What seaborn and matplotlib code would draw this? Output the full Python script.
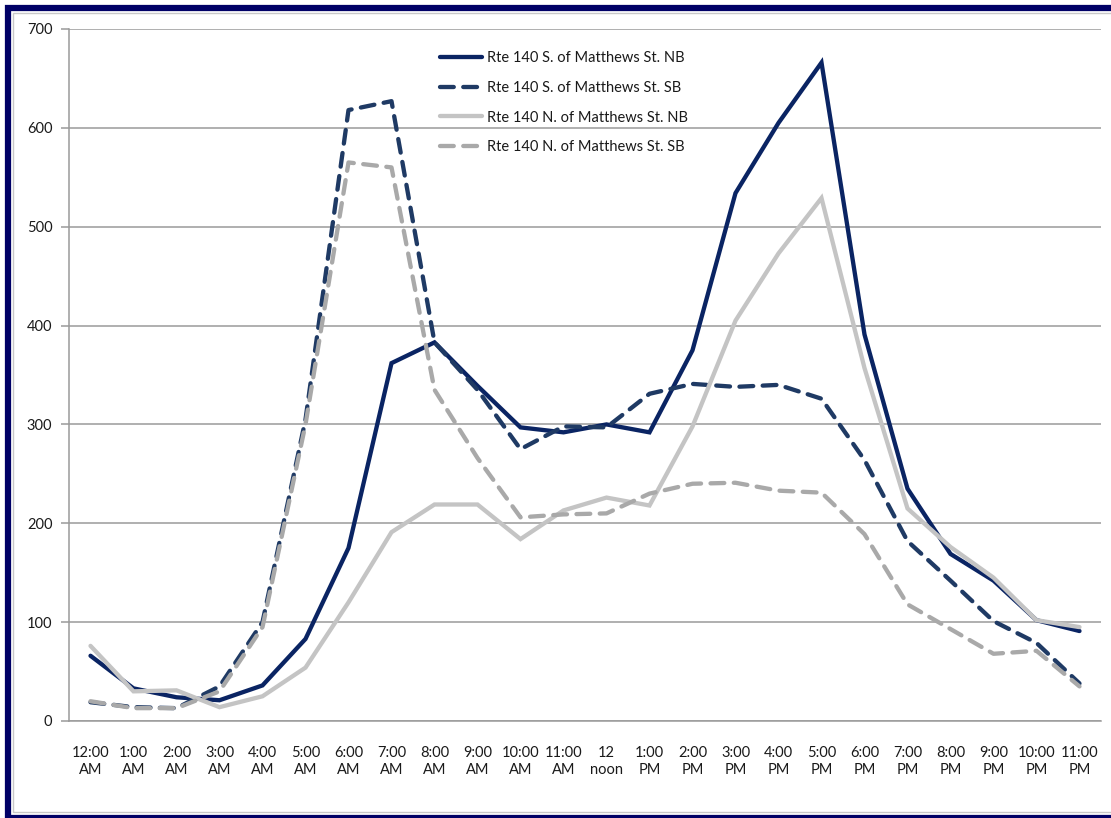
import matplotlib
matplotlib.use("Agg")
import matplotlib.pyplot as plt
import seaborn as sns
import pandas as pd
import numpy as np
from matplotlib.patches import Rectangle
from matplotlib.ticker import FixedLocator

hours = ["12:00\nAM", "1:00\nAM", "2:00\nAM", "3:00\nAM", "4:00\nAM", "5:00\nAM",
         "6:00\nAM", "7:00\nAM", "8:00\nAM", "9:00\nAM", "10:00\nAM", "11:00\nAM",
         "12\nnoon", "1:00\nPM", "2:00\nPM", "3:00\nPM", "4:00\nPM", "5:00\nPM",
         "6:00\nPM", "7:00\nPM", "8:00\nPM", "9:00\nPM", "10:00\nPM", "11:00\nPM"]

s_nb = [66, 33, 24, 21, 36, 83, 175, 362, 383, 339, 297, 292, 300, 292, 375, 534,
        605, 666, 391, 235, 169, 142, 102, 91]
s_sb = [19, 14, 13, 35, 100, 305, 618, 627, 383, 335, 275, 298, 297, 331, 341, 338,
        340, 326, 264, 182, 142, 101, 79, 38]
n_nb = [76, 30, 31, 14, 25, 54, 120, 191, 219, 219, 184, 213, 226, 218, 298, 405,
        473, 529, 357, 215, 176, 145, 102, 95]
n_sb = [20, 13, 13, 30, 95, 300, 565, 560, 335, 266, 206, 209, 210, 230, 240, 241,
        233, 231, 189, 118, 93, 68, 71, 35]

names = ["Rte 140 S. of Matthews St. NB", "Rte 140 S. of Matthews St. SB",
         "Rte 140 N. of Matthews St. NB", "Rte 140 N. of Matthews St. SB"]
series = [s_nb, s_sb, n_nb, n_sb]
colors = ["#0A2463", "#1F3A64", "#C4C4C4", "#A9A9A9"]
dashed = [False, True, False, True]

sns.set_theme(style="white")
plt.rcParams['font.family'] = ['Lato', 'DejaVu Sans']

fig = plt.figure(figsize=(11.11, 8.18), dpi=100)
fig.patch.set_facecolor("white")
ax = fig.add_axes([69/1111, 1 - 721/818, (1101 - 69)/1111, (721 - 29)/818])

x = np.arange(len(hours))
for name, vals, c, d in zip(names, series, colors, dashed):
    df = pd.DataFrame({"x": x, "y": vals})
    sns.lineplot(data=df, x="x", y="y", ax=ax, color=c, lw=3.1, label=name,
                 solid_capstyle="round", solid_joinstyle="miter")
    line = ax.lines[-1]
    if d:
        line.set_dashes((3.2, 2.2))
        line.set_dash_capstyle("round")

ax.set_xlim(-0.5, 23.5)
ax.set_ylim(0, 700)
ax.set_yticks(np.arange(0, 701, 100))
ax.yaxis.grid(True, color="#9A9A9A", lw=1.1)
ax.set_axisbelow(True)
ax.set_xticks(x)
ax.set_xticklabels(hours, fontsize=10.5, color="#1a1a1a", linespacing=1.3)
ax.xaxis.set_minor_locator(FixedLocator(np.arange(-0.5, 24, 1)))
ax.tick_params(axis="x", which="major", length=0, pad=18)
ax.tick_params(axis="x", which="minor", length=6, color="#9A9A9A", width=1.1, direction="out")
ax.tick_params(axis="y", length=6, color="#9A9A9A", width=1.1, labelsize=10.5,
               labelcolor="#1a1a1a", pad=6, left=True)
ax.set_xlabel("")
ax.set_ylabel("")
for side in ["top", "right"]:
    ax.spines[side].set_visible(False)
for side in ["left", "bottom"]:
    ax.spines[side].set_color("#9A9A9A")
    ax.spines[side].set_linewidth(1.1)

leg = ax.legend(loc="upper left", bbox_to_anchor=(440/1111, 1 - 51/818),
                bbox_transform=fig.transFigure, frameon=False, fontsize=10.5,
                handlelength=2.9, handletextpad=0.35, labelspacing=1.08,
                borderaxespad=0, borderpad=0)
for t in leg.get_texts():
    t.set_color("#1a1a1a")

# outer border (right side runs off the image)
fig.patches.append(Rectangle((8/1111, 0), 1120/1111, 1 - 8/818, transform=fig.transFigure,
                             fill=False, edgecolor="#000066", lw=4.5))
fig.patches.append(Rectangle((13/1111, 6/818), 1110/1111, 1 - 19/818, transform=fig.transFigure,
                             fill=False, edgecolor="#C8C8C8", lw=1))

fig.savefig("out.png", dpi=100, facecolor="white")
